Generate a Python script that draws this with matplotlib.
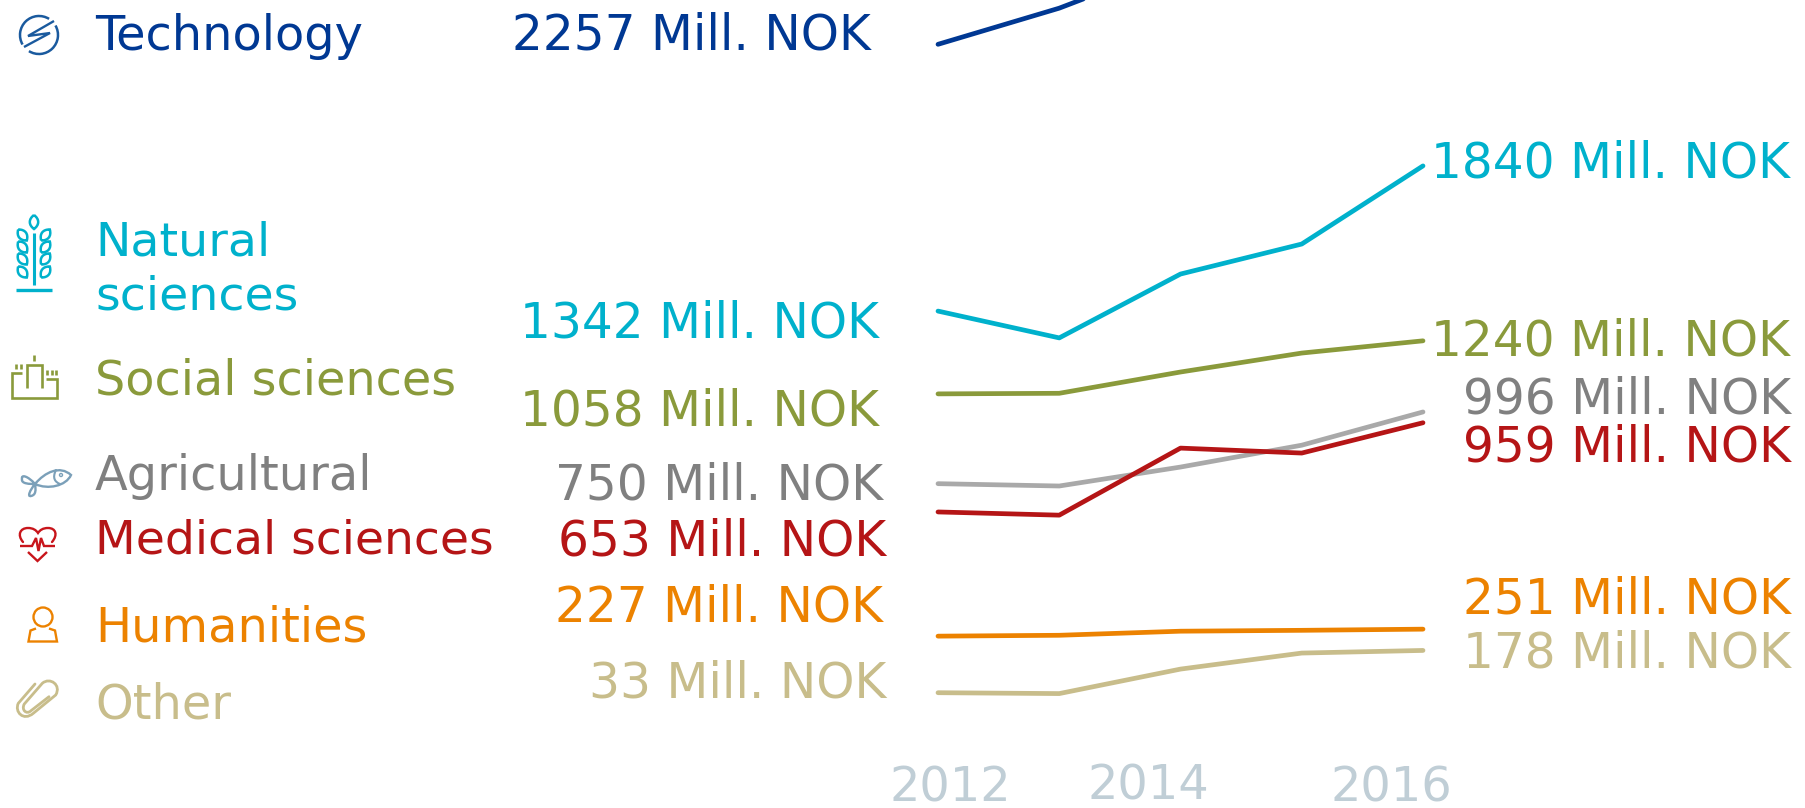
import matplotlib
matplotlib.use("Agg")
import matplotlib.pyplot as plt
from matplotlib.patches import Circle, Arc, PathPatch
from matplotlib.path import Path
import numpy as np

# Dados (Mill. NOK)
anos = [2012, 2013, 2014, 2015, 2016]
technology = [2257, 2381, 2540, 2800, 3100]
natural = [1342, 1250, 1469, 1572, 1840]
social = [1058, 1060, 1133, 1198, 1240]
agricultural = [750, 742, 807, 882, 996]
medical = [653, 642, 872, 855, 959]
humanities = [227, 230, 244, 247, 251]
other = [33, 30, 114, 169, 178]

tick_labels = ["2012", "2014", "2016"]
nomes = ["Technology", "Natural\nsciences", "Social sciences", "Agricultural",
         "Medical sciences", "Humanities", "Other"]
rotulos_ini = ["2257 Mill. NOK", "1342 Mill. NOK", "1058 Mill. NOK", "750 Mill. NOK",
               "653 Mill. NOK", "227 Mill. NOK", "33 Mill. NOK"]
rotulos_fim = ["1840 Mill. NOK", "1240 Mill. NOK", "996 Mill. NOK",
               "959 Mill. NOK", "251 Mill. NOK", "178 Mill. NOK"]

azul = "#003893"
azul_icone = "#1a5a9e"
ciano = "#00b1cc"
verde = "#8a9a3b"
cinza = "#808080"
cinza_linha = "#a9a9a9"
vermelho = "#b51516"
vermelho_icone = "#c8151b"
laranja = "#ec8200"
bege = "#c8bd8b"
peixe = "#7ba0b9"
cor_anos = "#c0ced6"

W, H = 1806, 808
fig = plt.figure(figsize=(W / 100, H / 100), dpi=100)

# Eixo dos dados: 2012 em x=938 px, 2016 em x=1423 px
ax = fig.add_axes([0, 0, 1, 1])
px_ano = 485 / 4
topo = 2409
ax.set_xlim(2012 - 938 / px_ano, 2012 + (W - 938) / px_ano)
ax.set_ylim(topo - H * 3.43, topo)
ax.axis("off")

series = [(technology, azul), (natural, ciano), (social, verde), (agricultural, cinza_linha),
          (medical, vermelho), (humanities, laranja), (other, bege)]
for valores, cor in series:
    ax.plot(anos, valores, color=cor, lw=3.4, solid_capstyle="round", solid_joinstyle="round")

# Eixo em pixels para textos e icones
pp = fig.add_axes([0, 0, 1, 1])
pp.set_xlim(0, W)
pp.set_ylim(H, 0)
pp.axis("off")
pp.patch.set_alpha(0)

# Nomes das areas
pos_nomes = [36, 270, 381, 477, 541, 628, 705]
tam_nomes = [34.5, 34.2, 34.4, 34.5, 34, 34.5, 34.5]
cores_nomes = [azul, ciano, verde, cinza, vermelho, laranja, bege]
for nome, y, cor, tam in zip(nomes, pos_nomes, cores_nomes, tam_nomes):
    pp.text(95, y, nome, color=cor, fontsize=tam, va="center", ha="left", linespacing=1.28)

# Rotulos de 2012
pos_ini = [(871, 36), (879, 323), (879, 412), (883, 486), (886, 541), (883, 608), (886, 684)]
for txt, (x, y), cor in zip(rotulos_ini, pos_ini, cores_nomes):
    pp.text(x, y, txt, color=cor, fontsize=35, va="center", ha="right")

# Rotulos de 2016
pos_fim = [(1431, 163), (1431, 342), (1463, 399), (1463, 448), (1463, 599), (1463, 654)]
for txt, (x, y), cor in zip(rotulos_fim, pos_fim, [ciano, verde, cinza, vermelho, laranja, bege]):
    pp.text(x, y, txt, color=cor, fontsize=35, va="center", ha="left")

# Anos do eixo x
pos_anos = [(950, 801), (1148, 800), (1391, 801)]
for txt, (x, y) in zip(tick_labels, pos_anos):
    pp.text(x, y, txt, color=cor_anos, fontsize=34.5, va="baseline", ha="center")


# Icones
def linha(xs, ys, cor, lw=1.7):
    pp.plot(xs, ys, color=cor, lw=lw, solid_capstyle="butt", solid_joinstyle="miter")


def curva(pontos, cor, lw=1.7):
    # pontos: lista de (codigo, pontos) com codigos M, L e C
    verts, codes = [], []
    for cod, pts in pontos:
        verts += pts
        if cod == "M":
            codes += [Path.MOVETO]
        elif cod == "L":
            codes += [Path.LINETO]
        else:
            codes += [Path.CURVE4] * 3
    pp.add_patch(PathPatch(Path(verts, codes), fill=False, ec=cor, lw=lw, capstyle="round"))


def folha(cx, cy, comp, larg, ang, cor, lw=1.8):
    a = np.radians(ang)
    c, s = np.cos(a), np.sin(a)
    def rot(u, v):
        return (cx + u * c - v * s, cy + u * s + v * c)
    m = comp / 2
    verts = [rot(-m, 0), rot(-m * 0.4, -larg * 0.7), rot(m * 0.4, -larg * 0.7), rot(m, 0),
             rot(m * 0.4, larg * 0.7), rot(-m * 0.4, larg * 0.7), rot(-m, 0)]
    codes = [Path.MOVETO] + [Path.CURVE4] * 6
    pp.add_patch(PathPatch(Path(verts, codes), fill=False, ec=cor, lw=lw))


# raio
pp.add_patch(Arc((39, 35), 38, 38, theta1=-30, theta2=122, color=azul_icone, lw=1.8))
pp.add_patch(Arc((39, 35), 38, 38, theta1=150, theta2=302, color=azul_icone, lw=1.8))
linha([24, 50, 28, 54], [47, 33, 36, 21], azul_icone)

# trigo
linha([34, 34], [233, 285], ciano, 2.2)
linha([16, 52], [290, 290], ciano, 2.4)
folha(34, 222, 14, 8, 90, ciano)
for y in [235, 247, 259, 272]:
    folha(22.5, y, 14, 8, 52, ciano)
    folha(45.5, y, 14, 8, -52, ciano)

# fabrica
linha([22, 12, 12, 57, 57, 46], [373, 373, 398, 398, 379, 379], verde, 1.9)
linha([27, 27, 42, 42], [388, 365, 365, 388], verde, 1.9)
linha([34, 34], [355, 361], verde, 1.9)
for x in [16, 21]:
    linha([x, x], [364, 369], verde, 1.9)
for x in [47, 52, 56]:
    linha([x, x], [370, 375], verde, 1.9)

# peixe
curva([("M", [(35, 484)]), ("C", [(45, 472), (60, 465), (71, 475)]),
       ("C", [(66, 486), (48, 490), (35, 484)]),
       ("C", [(28, 476), (21, 474), (22, 479)]),
       ("C", [(21, 484), (30, 484), (35, 484)]),
       ("C", [(30, 490), (27, 497), (31, 496)]),
       ("C", [(36, 495), (36, 490), (35, 484)])], peixe)
curva([("M", [(56, 470)]), ("C", [(52, 478), (55, 482), (60, 484)])], peixe, 1.5)
pp.add_patch(Circle((61, 475), 1.5, fill=False, ec=peixe, lw=1))

# coracao
curva([("M", [(23, 542)]), ("C", [(17, 535), (20, 528), (28, 528)]),
       ("C", [(33, 528), (36, 530), (38, 533)]),
       ("C", [(40, 530), (43, 528), (48, 528)]),
       ("C", [(56, 528), (58, 535), (52, 542)])], vermelho_icone)
linha([20, 32, 36, 38.5, 41, 44, 55], [546, 546, 538, 551, 538, 546, 546], vermelho_icone)
linha([28, 37.5, 47], [552, 561, 552], vermelho_icone)

# pessoa
pp.add_patch(Circle((43, 617), 9.5, fill=False, ec=laranja, lw=1.7))
linha([36, 30.5, 28.5, 57, 55, 49], [628.5, 630.5, 641.5, 641.5, 630.5, 628.5], laranja)

# clipe
curva([("M", [(35, 684)]), ("L", [(18.3, 703.3)]),
       ("C", [(14.3, 711.7), (23.3, 721.7), (33.3, 713.3)]),
       ("L", [(55.7, 695)]),
       ("C", [(61.7, 685), (50, 676.7), (42.3, 683.3)]),
       ("L", [(24.3, 704)]),
       ("C", [(21, 710), (26.7, 715), (31, 710.7)]),
       ("L", [(49, 696.7)])], bege, 2)

fig.savefig("out.png", dpi=100)
